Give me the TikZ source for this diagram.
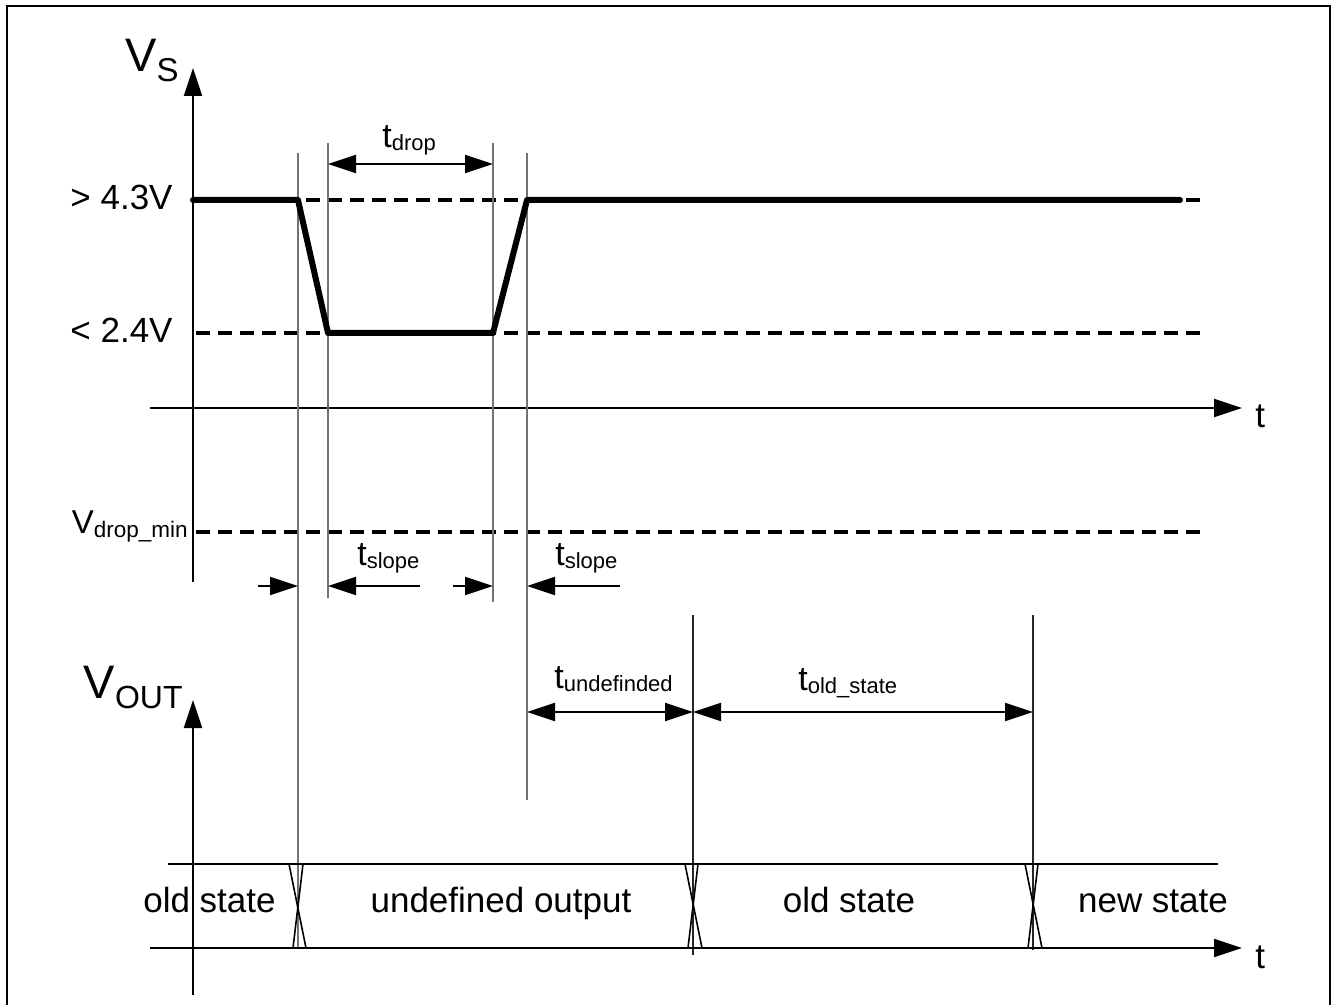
\documentclass[tikz,border=0pt]{standalone}
\usepackage{fontspec}
\setmainfont{Liberation Sans}
\usetikzlibrary{arrows.meta}
\newcommand\sublbl[5]{{\fontsize{#1}{#1}\selectfont #3}\raisebox{-#5}{\fontsize{#2}{#2}\selectfont #4}}
\tikzset{
  axisline/.style={line width=1pt},
  guide/.style={line width=0.6pt, black!55},
  vguide/.style={line width=0.6pt, black!85},
  sig/.style={line width=3pt, line join=round, line cap=round},
  lvl/.style={line width=1.75pt, dash pattern=on 7pt off 4pt},
  tip/.style={-{Triangle[length=14pt,width=9pt]}},
  dim/.style={line width=1pt, {Triangle[length=14pt,width=9pt]}-{Triangle[length=14pt,width=9pt]}},
  txt/.style={inner sep=0pt, font=\fontsize{17.5pt}{17.5pt}\selectfont},
  cross/.style={line width=0.8pt},
}
\begin{document}
\begin{tikzpicture}[x=0.5pt,y=-0.5pt]
\useasboundingbox (0,0) rectangle (1333,1005);
% frame
\draw[line width=1pt] (7,1006) -- (7,6) -- (1330,6) -- (1330,1006);

% ---------- upper diagram ----------
\coordinate (vsb) at (193,582);
\coordinate (vst) at (193,68);
\coordinate (tl) at (150,408);
\coordinate (tr) at (1242,408);
\draw[axisline,tip] (vsb) -- (vst);
\draw[axisline,tip] (tl) -- (tr);
\node[txt,anchor=base west] (t1) at (1255,428) {t};
\node[inner sep=0pt,anchor=base east] (vs) at (179,72) {\sublbl{23.5pt}{16.5pt}{V}{S}{5pt}};

% levels
\coordinate (hiR) at (1200,200); \coordinate (hiL) at (193,200);
\coordinate (loR) at (1200,333); \coordinate (loL) at (196,333);
\coordinate (mnR) at (1200,532); \coordinate (mnL) at (193,532);
\draw[lvl] (hiR) -- (hiL);
\draw[lvl] (loR) -- (loL);
\draw[lvl] (mnR) -- (mnL);
\node[txt,anchor=base east] (hi) at (173,210) {> 4.3V};
\node[txt,anchor=base east] (lo) at (173,343) {< 2.4V};
\node[inner sep=0pt,anchor=base east] (vmin) at (188,533) {\sublbl{16.5pt}{11.25pt}{V}{drop\_min}{2pt}};

% guides
\coordinate (g1t) at (298,153); \coordinate (g1b) at (298,948);
\coordinate (g2t) at (328,143); \coordinate (g2b) at (328,598);
\coordinate (g3t) at (493,143); \coordinate (g3b) at (493,602);
\coordinate (g4t) at (527,153); \coordinate (g4b) at (527,800);
\coordinate (g5t) at (693,615); \coordinate (g5b) at (693,955);
\coordinate (g6t) at (1033,615); \coordinate (g6b) at (1033,950);
\draw[guide] (g1t) -- (g1b);
\draw[guide] (g2t) -- (g2b);
\draw[guide] (g3t) -- (g3b);
\draw[guide] (g4t) -- (g4b);
\draw[vguide] (g5t) -- (g5b);
\draw[vguide] (g6t) -- (g6b);

% signal
\coordinate (s0) at (193,200);
\coordinate (s1) at (298,200);
\coordinate (s2) at (328,333);
\coordinate (s3) at (493,333);
\coordinate (s4) at (527,200);
\coordinate (s5) at (1180,200);
\draw[sig] (s0) -- (s1) -- (s2) -- (s3) -- (s4) -- (s5);

% t_drop
\coordinate (d1) at (328,164); \coordinate (d2) at (493,164);
\draw[dim] (d1) -- (d2);
\node[inner sep=0pt,anchor=base west] (tdrop) at (382,148) {\sublbl{17pt}{11pt}{t}{drop}{1.5pt}};

% t_slope
\coordinate (a1) at (258,586); \coordinate (a1e) at (298,586);
\coordinate (a2) at (420,586); \coordinate (a2e) at (328,586);
\coordinate (a3) at (453,586); \coordinate (a3e) at (493,586);
\coordinate (a4) at (620,586); \coordinate (a4e) at (527,586);
\draw[axisline,tip] (a1) -- (a1e);
\draw[axisline,tip] (a2) -- (a2e);
\draw[axisline,tip] (a3) -- (a3e);
\draw[axisline,tip] (a4) -- (a4e);
\node[inner sep=0pt,anchor=base west] (ts1) at (357,565) {\sublbl{17pt}{11pt}{t}{slope}{1.5pt}};
\node[inner sep=0pt,anchor=base west] (ts2) at (555,565) {\sublbl{17pt}{11pt}{t}{slope}{1.5pt}};

% t_undefinded, t_old_state
\coordinate (u1) at (527,712); \coordinate (u2) at (693,712); \coordinate (u3) at (1033,712);
\draw[dim] (u1) -- (u2);
\draw[dim] (u2) -- (u3);
\node[inner sep=0pt,anchor=base west] (tund) at (554,688) {\sublbl{17pt}{11pt}{t}{undefinded}{1.5pt}};
\node[inner sep=0pt,anchor=base west] (told) at (798,690) {\sublbl{17pt}{11pt}{t}{old\_state}{1.5pt}};

% ---------- lower diagram ----------
\coordinate (vob) at (193,995);
\coordinate (vot) at (193,700);
\draw[axisline,tip] (vob) -- (vot);
\node[inner sep=0pt,anchor=base east] (vout) at (183,698) {\sublbl{23.5pt}{16pt}{V}{OUT}{5pt}};

\coordinate (bt1) at (168,864); \coordinate (bt2) at (1218,864);
\coordinate (bb1) at (150,948); \coordinate (bb2) at (1242,948);
\draw[line width=0.8pt] (bt1) -- (bt2);
\draw[axisline,tip] (bb1) -- (bb2);
\node[txt,anchor=base west] (t2) at (1255,968) {t};

% crossings
\coordinate (x1a) at (289,864); \coordinate (x1b) at (306,948);
\coordinate (x1c) at (303,864); \coordinate (x1d) at (293,948);
\coordinate (x2a) at (685,864); \coordinate (x2b) at (702,948);
\coordinate (x2c) at (698,864); \coordinate (x2d) at (688,948);
\coordinate (x3a) at (1025,864); \coordinate (x3b) at (1042,948);
\coordinate (x3c) at (1038,864); \coordinate (x3d) at (1028,948);
\draw[cross] (x1a) -- (x1b); \draw[cross] (x1c) -- (x1d);
\draw[cross] (x2a) -- (x2b); \draw[cross] (x2c) -- (x2d);
\draw[cross] (x3a) -- (x3b); \draw[cross] (x3c) -- (x3d);

\node[txt,anchor=base] (st1) at (209.5,912) {old state};
\node[txt,anchor=base] (st2) at (501,912) {undefined output};
\node[txt,anchor=base] (st3) at (849,912) {old state};
\node[txt,anchor=base] (st4) at (1153,912) {new state};
\end{tikzpicture}
\end{document}
